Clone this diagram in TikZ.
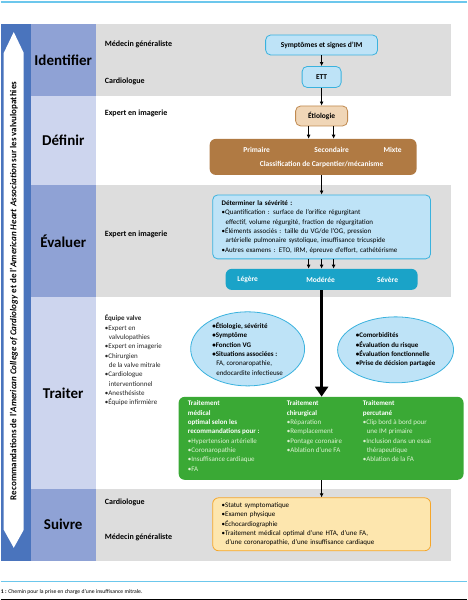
\documentclass[tikz,border=0pt]{standalone}
\usepackage{fontspec}
\setmainfont{Carlito}
\usetikzlibrary{positioning,arrows.meta,shapes.geometric}
\definecolor{bandblue}{RGB}{74,116,189}
\definecolor{phasemid}{RGB}{143,162,213}
\definecolor{phaselight}{RGB}{205,213,238}
\definecolor{rowgray}{RGB}{221,221,221}
\definecolor{boxblue}{RGB}{190,227,247}
\definecolor{edgeblue}{RGB}{58,178,222}
\definecolor{boxtan}{RGB}{240,214,183}
\definecolor{edgetan}{RGB}{192,138,80}
\definecolor{brownfill}{RGB}{176,122,67}
\definecolor{tealfill}{RGB}{26,163,200}
\definecolor{greenfill}{RGB}{58,169,53}
\definecolor{greentext}{RGB}{220,242,210}
\definecolor{boxyellow}{RGB}{253,230,174}
\definecolor{edgeyellow}{RGB}{245,166,42}
\definecolor{ruleblue}{RGB}{108,199,236}

\begin{document}
\begin{tikzpicture}
  [x=1pt,y=-1pt,
   phase/.style={rectangle,inner sep=0,outer sep=0,minimum width=65pt,
                 font=\fontsize{15}{15}\selectfont\bfseries},
   row/.style={rectangle,fill=rowgray,inner sep=0,outer sep=0,minimum width=355pt},
   actor/.style={anchor=west,inner sep=0,font=\fontsize{8}{9.3}\selectfont\bfseries},
   small/.style={inner sep=0,align=left,font=\fontsize{7}{9.3}\selectfont},
   bluebox/.style={rectangle,rounded corners=5pt,draw=edgeblue,fill=boxblue,thick,
                   align=center,inner sep=0,font=\fontsize{7.5}{9}\selectfont\bfseries},
   tanbox/.style={rectangle,rounded corners=5pt,draw=edgetan,fill=boxtan,thick,
                  align=center,inner sep=0,font=\fontsize{7.5}{9}\selectfont\bfseries},
   flatbox/.style={rectangle,rounded corners=6pt,inner sep=0},
   whitelabel/.style={inner sep=0,text=white,font=\fontsize{7.5}{9}\selectfont\bfseries},
   bubble/.style={ellipse,draw=edgeblue,fill=boxblue,thick,inner sep=0,align=left,
                  font=\fontsize{7}{9.3}\selectfont},
   arr/.style={-{Latex[length=4pt,width=4pt]},thick},
   bigarr/.style={-{Triangle[length=10pt,width=13pt]},line width=3pt}]
  % rules and caption
  \draw[ruleblue,line width=1.2pt] (0,2) -- (466,2);
  \draw[ruleblue,line width=1.2pt] (0,582) -- (466,582);
  \draw[black,line width=1.5pt] (0,599.5) -- (466,599.5);
  \node[anchor=west,inner sep=0,font=\fontsize{5.7}{6}\selectfont] (legende) at (0,592)
    {\textbf{1 :} Chemin pour la prise en charge d'une insuffisance mitrale.};
  % left band with double arrow
  \node[fill=bandblue,inner sep=0,minimum width=30pt,minimum height=537pt] (bande) at (15,292.5) {};
  \fill[white] (13,32) -- (23,53) -- (23,530) -- (13,548) -- (3,530) -- (3,53) -- cycle;
  \node[rotate=90,inner sep=0,font=\fontsize{9}{9}\selectfont\bfseries] (reco) at (13,291)
    {Recommandations de l'\textit{American College of Cardiology} et de l'\textit{American Heart Association} sur les valvulopathies};
  % phases
  \node[phase,fill=phasemid,minimum height=72pt] (identifier) at (62.5,60) {Identifier};
  \node[phase,fill=phaselight,minimum height=89pt] (definir) at (62.5,140.5) {Définir};
  \node[phase,fill=phasemid,minimum height=112pt] (evaluer) at (62.5,241) {Évaluer};
  \node[phase,fill=phaselight,minimum height=192pt] (traiter) at (62.5,393) {Traiter};
  \node[phase,fill=phasemid,minimum height=72pt] (suivre) at (62.5,525) {Suivre};
  \node[row,minimum height=72pt] (rowid) at (272.5,60) {};
  \node[row,minimum height=112pt] (roweval) at (272.5,241) {};
  \node[row,minimum height=72pt] (rowsuiv) at (272.5,525) {};
  % actors
  \node[actor] (mg1) at (104,44) {Médecin généraliste};
  \node[actor] (cardio1) at (104,81) {Cardiologue};
  \node[actor] (imag1) at (104,113) {Expert en imagerie};
  \node[actor] (imag2) at (104,234) {Expert en imagerie};
  \node[actor] (cardio2) at (104,503) {Cardiologue};
  \node[actor] (mg2) at (104,538) {Médecin généraliste};
  \node[small,anchor=north west,text=black!85] (equipe) at (104,315)
    {\textbf{Équipe valve}\\
     \textbullet Expert en\\
     \hspace*{4pt}valvulopathies\\
     \textbullet Expert en imagerie\\
     \textbullet Chirurgien\\
     \hspace*{4pt}de la valve mitrale\\
     \textbullet Cardiologue\\
     \hspace*{4pt}interventionnel\\
     \textbullet Anesthésiste\\
     \textbullet Équipe infirmière};
  % identifier / definir
  \node[bluebox,minimum width=112pt,minimum height=20pt] (symptomes) at (321,45) {Symptômes et signes d'IM};
  \node[bluebox,minimum width=39pt,minimum height=21pt] (ett) at (321,77) {ETT};
  \node[tanbox,minimum width=52pt,minimum height=20pt] (etiologie) at (321,116) {Étiologie};
  \node[flatbox,fill=brownfill,minimum width=207pt,minimum height=36pt] (classif) at (312.5,157) {};
  \node[whitelabel] (primaire) at (256,150) {Primaire};
  \node[whitelabel] (secondaire) at (331,150) {Secondaire};
  \node[whitelabel] (mixte) at (392,150) {Mixte};
  \node[whitelabel] (carpentier) at (321,165) {Classification de Carpentier/mécanisme};
  % evaluer
  \node[bluebox,minimum width=218pt,minimum height=64pt,text width=200pt,align=left,
        font=\fontsize{7}{9.3}\selectfont] (severite) at (321,227)
    {\textbf{Déterminer la sévérité :}\\
     \textbullet Quantification : surface de l'orifice régurgitant\\
     \hspace*{4pt}effectif, volume régurgité, fraction de régurgitation\\
     \textbullet Éléments associés : taille du VG/de l'OG, pression\\
     \hspace*{4pt}artérielle pulmonaire systolique, insuffisance tricuspide\\
     \textbullet Autres examens : ETO, IRM, épreuve d'effort, cathétérisme};
  \node[flatbox,fill=tealfill,minimum width=192pt,minimum height=21pt] (grade) at (321,279.5) {};
  \node[whitelabel] (legere) at (247,280) {Légère};
  \node[whitelabel] (moderee) at (320,280) {Modérée};
  \node[whitelabel] (severe) at (387,280) {Sévère};
  % traiter
  \node[bubble,minimum width=114pt,minimum height=70pt] (patient) at (247,349)
    {\textbf{\textbullet Étiologie, sévérité}\\
     \textbf{\textbullet Symptôme}\\
     \textbf{\textbullet Fonction VG}\\
     \textbf{\textbullet Situations associées :}\\
     \hspace*{4pt}FA, coronaropathie,\\
     \hspace*{4pt}endocardite infectieuse};
  \node[bubble,minimum width=116pt,minimum height=66pt,font=\fontsize{7}{9.3}\selectfont\bfseries] (decision) at (395,350)
    {\textbullet Comorbidités\\
     \textbullet Évaluation du risque\\
     \textbullet Évaluation fonctionnelle\\
     \textbullet Prise de décision partagée};
  \node[flatbox,fill=greenfill,minimum width=285pt,minimum height=83pt] (traitement) at (320.5,438.5) {};
  \node[small,anchor=north west,text=greentext] (medical) at (187,401)
    {\textcolor{white}{\textbf{Traitement}}\\
     \textcolor{white}{\textbf{médical}}\\
     \textcolor{white}{\textbf{optimal selon les}}\\
     \textcolor{white}{\textbf{recommandations pour :}}\\
     \textbullet Hypertension artérielle\\
     \textbullet Coronaropathie\\
     \textbullet Insuffisance cardiaque\\
     \textbullet FA};
  \node[small,anchor=north west,text=greentext] (chirurgical) at (286,401)
    {\textcolor{white}{\textbf{Traitement}}\\
     \textcolor{white}{\textbf{chirurgical}}\\
     \textbullet Réparation\\
     \textbullet Remplacement\\
     \textbullet Pontage coronaire\\
     \textbullet Ablation d'une FA};
  \node[small,anchor=north west,text=greentext] (percutane) at (362,401)
    {\textcolor{white}{\textbf{Traitement}}\\
     \textcolor{white}{\textbf{percutané}}\\
     \textbullet Clip bord à bord pour\\
     \hspace*{4pt}une IM primaire\\
     \textbullet Inclusion dans un essai\\
     \hspace*{4pt}thérapeutique\\
     \textbullet Ablation de la FA};
  % suivre
  \node[flatbox,draw=edgeyellow,fill=boxyellow,thick,minimum width=218pt,minimum height=53pt,
        text width=200pt,inner xsep=9pt,align=left,font=\fontsize{7}{9.3}\selectfont] (suivi) at (321,524.5)
    {\textbullet Statut symptomatique\\
     \textbullet Examen physique\\
     \textbullet Échocardiographie\\
     \textbullet Traitement médical optimal d'une HTA, d'une FA,\\
     \hspace*{4pt}d'une coronaropathie, d'une insuffisance cardiaque};
  % connectors
  \draw[arr] (symptomes) -- (ett);
  \draw[arr] (ett) -- (etiologie);
  \draw[arr] ([xshift=-13pt]etiologie.south) -- ([xshift=-13pt]etiologie.south |- classif.north);
  \draw[arr] ([xshift=12pt]etiologie.south) -- ([xshift=12pt]etiologie.south |- classif.north);
  \draw[arr] (classif.south -| severite.north) -- (severite.north);
  \draw[arr] ([xshift=-13pt]severite.south) -- ([xshift=-13pt]severite.south |- grade.north);
  \draw[arr] (severite.south) -- (grade.north);
  \draw[arr] ([xshift=12pt]severite.south) -- ([xshift=12pt]severite.south |- grade.north);
  \draw[bigarr] (grade.south) -- (grade.south |- traitement.north);
  \draw[arr] (traitement.south -| suivi.north) -- (suivi.north);
  \useasboundingbox (0,0) rectangle (466,600);
\end{tikzpicture}
\end{document}
